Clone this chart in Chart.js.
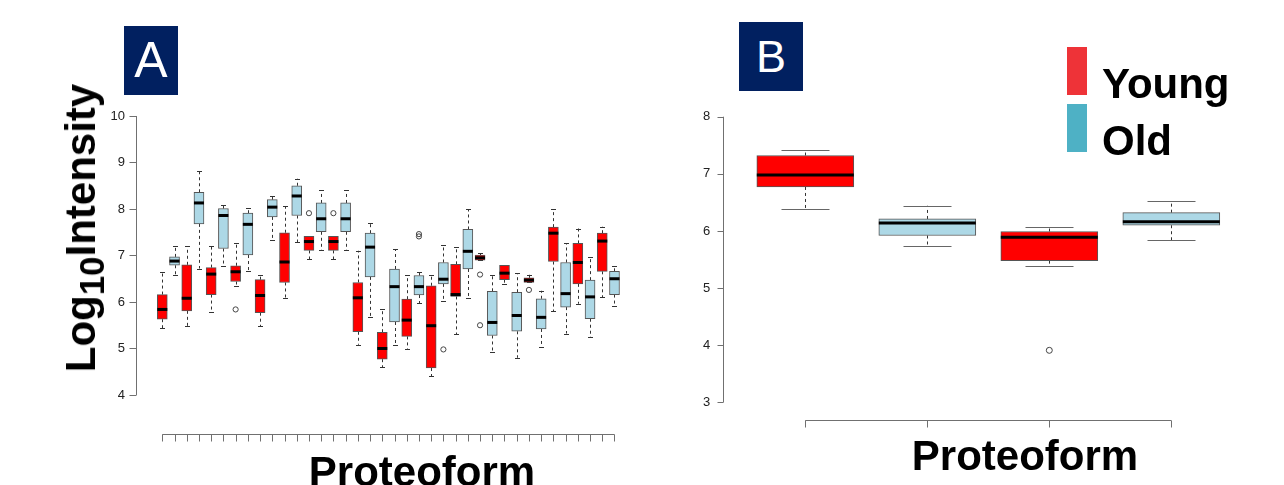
<!DOCTYPE html>
<html>
<head>
<meta charset="utf-8">
<script src="https://cdn.jsdelivr.net/npm/chart.js@4.4.1/dist/chart.umd.min.js"></script>
<style>
  html, body { margin: 0; padding: 0; background: #fff; }
  #page { position: relative; width: 1284px; height: 485px; overflow: hidden;
          font-family: "Liberation Sans", Arial, sans-serif; }
  canvas { position: absolute; top: 0; }
  .tag { position: absolute; background: #012060; color: #fff; text-align: center; }
  .txt { position: absolute; white-space: nowrap; font-weight: bold; color: #000; line-height: 1; }
  .txt sub { line-height: 0; font-size: 0.83em; }
  .swatch { position: absolute; width: 20px; height: 48px; }
</style>
</head>
<body>
<div id="page">
  <canvas id="chartA" width="640" height="485" style="left:0"></canvas>
  <canvas id="chartB" width="644" height="485" style="left:640px"></canvas>

  <div class="tag" style="left:124px;top:26px;width:54px;height:69px;font-size:50px;line-height:69px;">A</div>
  <div class="tag" style="left:739px;top:22px;width:64px;height:69px;font-size:45px;line-height:69px;">B</div>

  <div class="txt" id="yTitle" style="font-size:42px;left:80.5px;top:227.5px;transform:translate(-50%,-50%) rotate(-90deg);">Log<sub>10</sub>Intensity</div>
  <div class="txt" style="font-size:42px;left:422px;top:451px;transform:translateX(-50%);">Proteoform</div>
  <div class="txt" style="font-size:42px;left:1025px;top:434.5px;transform:translateX(-50%);">Proteoform</div>

  <div class="swatch" style="left:1067px;top:47px;background:#EE3338;"></div>
  <div class="swatch" style="left:1067px;top:104px;background:#4EB1C5;"></div>
  <div class="txt" style="font-size:42px;left:1102px;top:63px;">Young</div>
  <div class="txt" style="font-size:42px;left:1102px;top:120px;">Old</div>
</div>

<script>
// ---------- Panel A: 38 proteoforms, young / old alternating ----------
const aGroup = ["Y","O","Y","O","Y","O","Y","O","Y","O","Y","O","Y","O","Y","O","Y","O","Y",
                "O","Y","O","Y","O","Y","O","Y","O","Y","O","Y","O","Y","O","Y","O","Y","O"];
const aLow  = [5.43,6.59,5.48,6.72,5.79,6.77,6.34,6.67,5.48,7.34,6.09,7.29,6.92,7.12,6.92,7.12,5.08,5.68,4.60,
               5.08,4.98,5.97,4.41,6.02,5.31,6.09,6.90,4.92,6.39,4.80,6.42,5.04,5.80,5.32,5.96,5.24,6.11,5.92];
const aQ1   = [5.63,6.79,5.81,7.68,6.16,7.15,6.44,7.01,5.77,7.83,6.42,7.86,7.11,7.51,7.11,7.51,5.36,6.54,4.77,
               5.57,5.26,6.15,4.58,6.39,6.12,6.71,6.90,5.28,6.48,5.37,6.42,5.42,6.87,5.89,6.39,5.64,6.66,6.16];
const aMed  = [5.84,6.88,6.08,8.13,6.60,7.86,6.65,7.67,6.14,8.04,6.86,8.28,7.30,7.79,7.30,7.79,6.09,7.18,5.00,
               6.33,5.61,6.33,5.49,6.49,6.16,7.09,6.95,5.56,6.62,5.71,6.47,5.67,7.48,6.18,6.85,6.11,7.31,6.50];
const aQ3   = [6.16,6.97,6.80,8.36,6.74,8.01,6.78,7.91,6.48,8.20,7.49,8.50,7.41,8.13,7.41,8.13,6.42,7.48,5.35,
               6.71,6.06,6.57,6.35,6.85,6.81,7.56,7.01,6.23,6.79,6.21,6.52,6.07,7.61,6.85,7.26,6.47,7.48,6.66];
const aHigh = [6.64,7.21,7.20,8.82,7.20,8.09,7.26,8.03,6.57,8.28,8.06,8.65,7.41,8.41,7.41,8.41,7.10,7.70,5.86,
               7.13,6.57,6.65,6.59,7.23,7.18,8.00,7.05,6.59,6.79,6.62,6.59,6.24,7.99,7.26,7.58,6.97,7.62,6.78];
const aOutX = [7, 13, 15, 22, 22, 24, 27, 27, 31];
const aOutY = [5.84, 7.91, 7.91, 7.41, 7.46, 4.98, 6.59, 5.50, 6.26];
const aTicks = [4, 5, 6, 7, 8, 9, 10];

// ---------- Panel B: 4 boxes ----------
const bGroup = ["Y", "O", "Y", "O"];
const bLow  = [6.39, 5.74, 5.38, 5.84];
const bQ1   = [6.77, 5.92, 5.48, 6.10];
const bMed  = [6.98, 6.14, 5.89, 6.16];
const bQ3   = [7.32, 6.21, 5.99, 6.32];
const bHigh = [7.41, 6.44, 6.07, 6.53];
const bOutX = [3];
const bOutY = [3.91];
const bTicks = [3, 4, 5, 6, 7, 8];

const FILL = { Y: "#FF0000", O: "#ADD8E6" };
const AXIS = "#707070";
const FONT = { family: "'Liberation Sans', Arial, sans-serif", size: 13 };

// whiskers, staples, medians and R-style axes, all placed through the chart's scales
const boxParts = {
  id: "boxParts",
  beforeDatasetsDraw(chart, args, o) {
    const { ctx, scales: { x, y } } = chart;
    ctx.save();
    o.low.forEach((lo, i) => {
      const px = Math.round(x.getPixelForValue(i + 1)) + 0.5;
      const pairs = [[o.q3[i], o.high[i]], [o.q1[i], lo]];
      pairs.forEach(([from, to]) => {
        if (from === to) return;
        ctx.strokeStyle = "#333";
        ctx.lineWidth = 1;
        ctx.setLineDash([3, 3]);
        ctx.beginPath();
        ctx.moveTo(px, y.getPixelForValue(from));
        ctx.lineTo(px, y.getPixelForValue(to));
        ctx.stroke();
      });
      ctx.setLineDash([]);
      ctx.strokeStyle = o.capColor;
      [lo, o.high[i]].forEach((v) => {
        const py = Math.round(y.getPixelForValue(v)) + 0.5;
        ctx.beginPath();
        ctx.moveTo(px - o.cap / 2, py);
        ctx.lineTo(px + o.cap / 2, py);
        ctx.stroke();
      });
    });
    ctx.restore();
  },
  afterDatasetsDraw(chart, args, o) {
    const { ctx, scales: { x, y } } = chart;
    ctx.save();
    ctx.strokeStyle = "#000";
    ctx.lineWidth = 3;
    o.med.forEach((m, i) => {
      const px = x.getPixelForValue(i + 1);
      const py = y.getPixelForValue(m);
      ctx.beginPath();
      ctx.moveTo(px - o.width / 2, py);
      ctx.lineTo(px + o.width / 2, py);
      ctx.stroke();
    });

    // axis lines only between first and last tick, with outward tick marks
    const yt = o.yTicks;
    const n = o.low.length;
    ctx.strokeStyle = AXIS;
    ctx.lineWidth = 1;
    ctx.beginPath();
    const lx = Math.round(chart.chartArea.left) - 0.5;
    ctx.moveTo(lx, y.getPixelForValue(yt[0]));
    ctx.lineTo(lx, y.getPixelForValue(yt[yt.length - 1]));
    yt.forEach((v) => {
      const py = Math.round(y.getPixelForValue(v)) + 0.5;
      ctx.moveTo(lx, py);
      ctx.lineTo(lx - o.yTick, py);
    });
    const by = Math.round(chart.chartArea.bottom) + 0.5;
    ctx.moveTo(x.getPixelForValue(1), by);
    ctx.lineTo(x.getPixelForValue(n), by);
    for (let i = 1; i <= n; i++) {
      const px = Math.round(x.getPixelForValue(i)) + 0.5;
      ctx.moveTo(px, by);
      ctx.lineTo(px, by + 7);
    }
    ctx.stroke();
    ctx.restore();
  },
};

function makeBoxChart(id, s, view) {
  return new Chart(document.getElementById(id), {
    type: "bar",
    data: {
      datasets: [
        {
          type: "bar",
          data: s.q1.map((q, i) => ({ x: i + 1, y: [q, s.q3[i]] })),
          backgroundColor: s.group.map((g) => FILL[g]),
          borderColor: "#555",
          borderWidth: 1,
          borderSkipped: false,
          barThickness: view.width,
        },
        {
          type: "scatter",
          data: s.outX.map((x, i) => ({ x, y: s.outY[i] })),
          pointStyle: "circle",
          pointRadius: view.dot,
          backgroundColor: "rgba(0,0,0,0)",
          borderColor: "#444",
          borderWidth: 1,
        },
      ],
    },
    options: {
      responsive: false,
      animation: false,
      layout: { padding: view.pad },
      plugins: {
        legend: { display: false },
        tooltip: { enabled: false },
        boxParts: { ...s, width: view.width, cap: view.cap, capColor: view.capColor, yTick: view.tick },
      },
      scales: {
        x: {
          type: "linear",
          offset: false,
          min: view.xMin,
          max: view.xMax,
          afterFit: (sc) => { sc.height = 10; },
          ticks: { display: false },
          border: { display: false },
          grid: { display: false, drawTicks: false },
        },
        y: {
          min: view.yMin,
          max: view.yMax,
          afterBuildTicks: (sc) => { sc.ticks = s.yTicks.map((v) => ({ value: v })); },
          afterFit: (sc) => { sc.width = 40; },
          ticks: { font: FONT, color: "#222", padding: view.labelPad + view.tick },
          border: { display: false },
          grid: { display: false, drawTicks: false },
        },
      },
    },
    plugins: [boxParts],
  });
}

makeBoxChart(
  "chartA",
  { group: aGroup, low: aLow, q1: aQ1, med: aMed, q3: aQ3, high: aHigh, outX: aOutX, outY: aOutY, yTicks: aTicks },
  { width: 10, cap: 5, capColor: "#333", dot: 2.6, tick: 7, labelPad: 5,
    xMin: -1.07, xMax: 38.86, yMin: 3.161, yMax: 10.3,
    pad: { left: 97, right: 15, top: 102.05, bottom: 41 } }
);

makeBoxChart(
  "chartB",
  { group: bGroup, low: bLow, q1: bQ1, med: bMed, q3: bQ3, high: bHigh, outX: bOutX, outY: bOutY, yTicks: bTicks },
  { width: 97, cap: 48, capColor: "#666", dot: 3, tick: 6, labelPad: 8,
    xMin: 0.336, xMax: 4.645, yMin: 2.69, yMax: 8.3,
    pad: { left: 44.3, right: 34, top: 99.56, bottom: 55 } }
);
</script>
</body>
</html>
